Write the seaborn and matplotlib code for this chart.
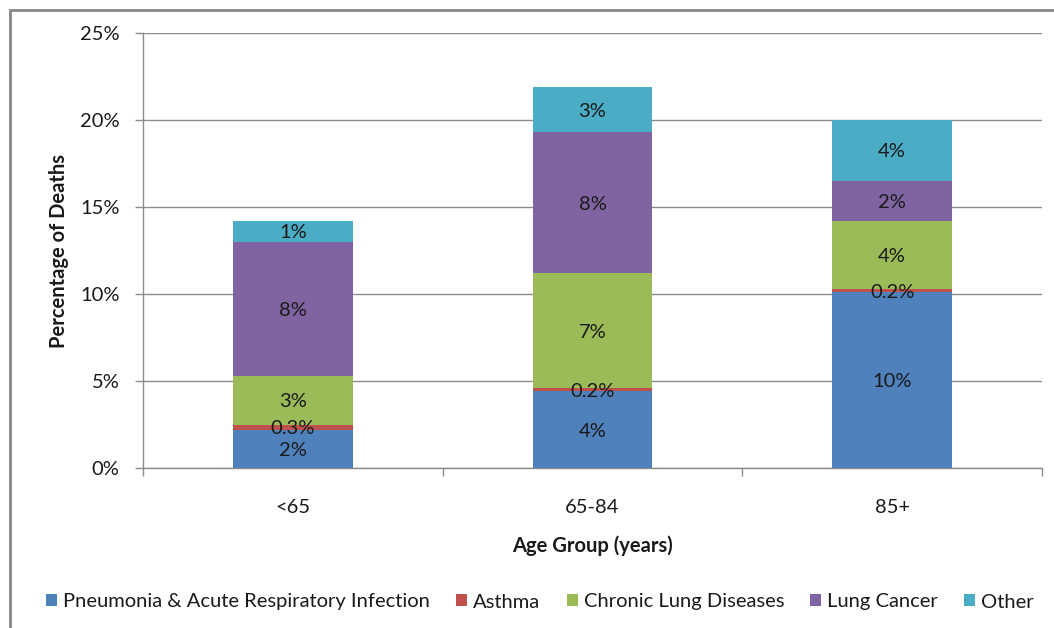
import matplotlib
matplotlib.use("Agg")
import matplotlib.pyplot as plt
from matplotlib.patches import Rectangle, Patch
from matplotlib.ticker import FixedLocator, FuncFormatter
import numpy as np
import pandas as pd
import seaborn as sns

# Share of deaths (%) by cause, per age group
age_groups = ["<65", "65-84", "85+"]
causes = ["Pneumonia & Acute Respiratory Infection", "Asthma",
          "Chronic Lung Diseases", "Lung Cancer", "Other"]
pneumonia = [2.2, 4.4, 10.1]
asthma = [0.3, 0.2, 0.2]
chronic = [2.8, 6.6, 3.9]
lung_cancer = [7.7, 8.1, 2.3]
other = [1.2, 2.6, 3.5]
y_ticks = [0, 5, 10, 15, 20, 25]

colors = ["#4F81BD", "#C0504D", "#9BBB59", "#8064A2", "#4BACC6"]

sns.set_theme(style="white")
FONT = ["Lato", "DejaVu Sans"]
plt.rcParams["font.family"] = FONT
FS = 14.5

series = [pneumonia, asthma, chronic, lung_cancer, other]
values = np.array(series, dtype=float)          # causes x groups
cumulative = np.cumsum(values, axis=0)

fig = plt.figure(figsize=(10.54, 6.28), dpi=100)
ax = fig.add_axes([143 / 1054, 1 - 468 / 628, (1042 - 143) / 1054, (468 - 33) / 628])

# Stacked bars: draw running totals from the top layer down
for i in range(len(causes) - 1, -1, -1):
    df = pd.DataFrame({"group": age_groups, "total": cumulative[i]})
    sns.barplot(data=df, x="group", y="total", order=age_groups, color=colors[i],
                saturation=1, width=0.4, linewidth=0, ax=ax, zorder=3)

# Segment labels
for i in range(len(causes)):
    for j in range(len(age_groups)):
        v = values[i, j]
        txt = f"{v:.1f}%" if v < 1 else f"{v:.0f}%"
        ax.text(j, cumulative[i, j] - v / 2, txt, ha="center", va="center_baseline",
                fontsize=FS, color="#1a1a1a", zorder=5)

ax.set_xlim(-0.5, 2.5)
ax.set_ylim(0, 25)
ax.yaxis.set_major_locator(FixedLocator(y_ticks))
ax.yaxis.set_major_formatter(FuncFormatter(lambda v, p: f"{v:.0f}%"))
ax.grid(axis="y", color="#8c8c8c", linewidth=1.0, zorder=0)
ax.set_axisbelow(True)

for s in ["top", "right"]:
    ax.spines[s].set_visible(False)
for s in ["left", "bottom"]:
    ax.spines[s].set_color("#8c8c8c")
    ax.spines[s].set_linewidth(1.0)

ax.xaxis.set_minor_locator(FixedLocator([-0.5, 0.5, 1.5, 2.5]))
ax.tick_params(axis="x", which="major", length=0, pad=22, labelsize=FS, labelcolor="#1a1a1a")
ax.tick_params(axis="x", which="minor", length=6, width=1, color="#8c8c8c", bottom=True)
ax.tick_params(axis="y", which="major", length=6, width=1, color="#8c8c8c", left=True,
               pad=11, labelsize=FS, labelcolor="#1a1a1a")

ax.set_xlabel("Age Group (years)", fontsize=FS, fontweight="bold", color="#1a1a1a", labelpad=14)
ax.set_ylabel("Percentage of Deaths", fontsize=FS, fontweight="bold", color="#1a1a1a", labelpad=8)

handles = [Patch(facecolor=c, edgecolor="none") for c in colors]
fig.legend(handles, causes, loc="center", bbox_to_anchor=(540 / 1054, 1 - 602 / 628),
           ncol=5, frameon=False, fontsize=FS, handlelength=0.55, handleheight=0.55,
           handletextpad=0.3, columnspacing=1.3, labelcolor="#1a1a1a")

# Chart-area border
fig.patches.append(Rectangle((10 / 1054, -0.1), 1.2, 1 - 10 / 628 + 0.1,
                             transform=fig.transFigure, fill=False,
                             edgecolor="#878787", linewidth=2, zorder=10))

fig.savefig("out.png", dpi=100)
